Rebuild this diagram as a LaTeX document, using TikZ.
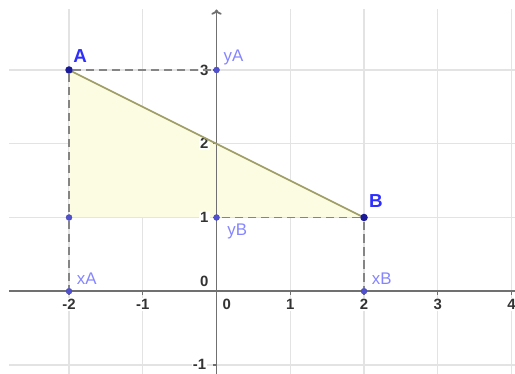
\documentclass[tikz,border=0pt]{standalone}
\usepackage{fontspec}
\setmainfont{Liberation Sans}
\usetikzlibrary{arrows.meta}
\definecolor{gridc}{HTML}{E3E3E3}
\definecolor{axisc}{HTML}{707070}
\definecolor{dashc}{HTML}{858585}
\definecolor{fillc}{HTML}{FCFCE3}
\definecolor{edgec}{HTML}{9E9E66}
\definecolor{polyc}{HTML}{EAEAC0}
\definecolor{ptdark}{HTML}{1A1A99}
\definecolor{ptmed}{HTML}{5050D0}
\definecolor{labdark}{HTML}{2E2EFF}
\definecolor{lablight}{HTML}{8585FF}
\definecolor{tickc}{HTML}{333333}
\tikzset{
  gridline/.style={draw=gridc, line width=1.1pt},
  axisline/.style={draw=axisc, line width=1.4pt},
  dashln/.style={draw=dashc, line width=1.4pt, dash pattern=on 6.5pt off 3.5pt},
  bigpt/.style={circle, inner sep=0pt, minimum size=5.8pt, fill=ptdark},
  smallpt/.style={circle, inner sep=0pt, minimum size=4.6pt, fill=ptmed, draw=ptdark!80, line width=0.3pt},
  biglab/.style={text=labdark, font=\fontsize{14.5}{14.5}\selectfont\bfseries, inner sep=0pt},
  smalllab/.style={text=lablight, font=\fontsize{13}{13}\selectfont, inner sep=0pt},
  ticklab/.style={text=tickc, font=\fontsize{11.5}{11.5}\selectfont\bfseries, fill=white, inner sep=1pt},
  tickmark/.style={draw=axisc, line width=1pt}
}
\begin{document}
\begin{tikzpicture}[x=2cm,y=2cm]
\useasboundingbox (-2.936,-1.122) rectangle (4.047,3.949);
% grid
\draw[gridline, step=1] (-2.814,-1.122) grid (4.047,3.827);
% polygon
\coordinate (pA) at (-2,3);
\coordinate (pB) at (2,1);
\coordinate (pC) at (-2,1);
\fill[fillc] (pA) -- (pB) -- (pC) -- cycle;
\draw[polyc, line width=0.8pt] (pC) -- (pB);
% axes
\coordinate (xl) at (-2.814,0);
\coordinate (xr) at (4.047,0);
\coordinate (yb) at (0,-1.122);
\coordinate (yt) at (0,3.82);
\draw[axisline] (xl) -- (xr);
\draw[axisline, -{To[length=4pt,width=8pt]}] (yb) -- (yt);
% ticks
\foreach \i in {-2,-1,1,2,3,4} { \draw[tickmark] (\i,0) -- (\i,-0.05); }
\foreach \j in {-1,1,2,3} { \draw[tickmark] (0,\j) -- (-0.05,\j); }
% tick labels
\foreach \i/\t in {-2/-2,-1/-1,1/1,2/2,3/3,4/4} { \node[ticklab] (tx\i) at (\i,-0.18) {\t}; }
\node[ticklab] (tx0) at (0.14,-0.18) {0};
\foreach \j in {1,2,3} { \node[ticklab] (ty\j) at (-0.165,\j) {\j}; }
\node[ticklab] (ty0) at (-0.165,0.13) {0};
\node[ticklab] (tym) at (-0.23,-0.99) {-1};
% dashed lines and points
\node[smallpt] (yA) at (0,3) {};
\node[smallpt] (xA) at (-2,0) {};
\node[smallpt] (yB) at (0,1) {};
\node[smallpt] (xB) at (2,0) {};
\node[smallpt] (C) at (-2,1) {};
\draw[edgec, line width=1.3pt] (pA) -- (pB);
\node[bigpt] (A) at (-2,3) {};
\node[bigpt] (B) at (2,1) {};
\draw[dashln] (A) -- (yA);
\draw[dashln] (A) -- (C);
\draw[dashln] (C) -- (xA);
\draw[dashln] (B) -- (yB);
\draw[dashln] (B) -- (xB);
% labels
\node[biglab] (lA) at (-1.85,3.19) {A};
\node[biglab] (lB) at (2.16,1.22) {B};
\node[smalllab] (lyA) at (0.23,3.17) {yA};
\node[smalllab] (lyB) at (0.28,0.81) {yB};
\node[smalllab] (lxA) at (-1.76,0.165) {xA};
\node[smalllab] (lxB) at (2.24,0.165) {xB};
\end{tikzpicture}
\end{document}
